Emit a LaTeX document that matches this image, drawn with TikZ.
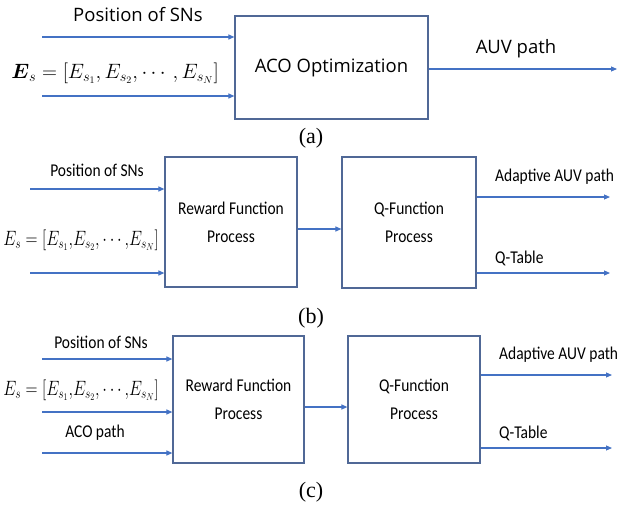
\documentclass[tikz,border=0pt]{standalone}
\usepackage{amsmath}
\usepackage{amssymb}
\usepackage{fontspec}
\usepackage{xcolor}
\usetikzlibrary{arrows.meta}

\setmainfont{Liberation Serif}
\newfontfamily\fuenteA{Open Sans}
\newfontfamily\fuenteB{Carlito}

\definecolor{azulflecha}{RGB}{68,114,196}
\definecolor{azulcaja}{RGB}{80,104,150}

% texto algo estrechado, como en las figuras (b) y (c)
\newcommand{\estrecho}[1]{\scalebox{0.86}[1]{#1}}

\begin{document}
\begin{tikzpicture}[x=1pt,y=-1pt,
    caja/.style={draw=azulcaja, line width=1.2pt, inner sep=0pt, align=center},
    flecha/.style={draw=azulflecha, line width=1.1pt, -{Triangle[length=6pt,width=5pt]}},
    etiqA/.style={font=\fuenteA\fontsize{18.5}{22}\selectfont, inner sep=0pt},
    etiqB/.style={font=\fuenteB\fontsize{18}{28}\selectfont, inner sep=0pt},
    formula/.style={font=\fontsize{20}{24}\selectfont, inner sep=0pt},
    pie/.style={font=\fontsize{22}{26}\selectfont, inner sep=0pt}]

    \useasboundingbox (0,0) rectangle (618,506);

    % (a) Optimizacion ACO
    \node[caja, etiqA, minimum width=193pt, minimum height=103pt] (aco) at (331.5,67.5) {ACO Optimization};
    \coordinate (a1) at (42,37);
    \coordinate (a2) at (42,96);
    \coordinate (aout) at (617,69);
    \draw[flecha] (a1) -- (a1 -| aco.west);
    \draw[flecha] (a2) -- (a2 -| aco.west);
    \draw[flecha] (aout -| aco.east) -- (aout);

    \node[etiqA] (posA) at (138,15) {Position of SNs};
    \node[formula] (energiaA) at (115,73)
        {$\boldsymbol{E}_s = [E_{s_1}, E_{s_2}, \cdots, E_{s_N}]$};
    \node[etiqA] (rutaA) at (516,49) {AUV path};
    \node[pie] (capA) at (311,138) {(a)};

    % (b) Q-learning con dos entradas
    \node[caja, etiqB, minimum width=132pt, minimum height=130pt] (recB) at (231,222)
        {\estrecho{Reward Function}\\\estrecho{Process}};
    \node[caja, etiqB, minimum width=134pt, minimum height=131pt] (qB) at (409,222.5)
        {\estrecho{Q-Function}\\\estrecho{Process}};
    \coordinate (b1) at (30,189);
    \coordinate (b2) at (30,273);
    \coordinate (b3) at (610,197);
    \coordinate (b4) at (610,273);
    \draw[flecha] (b1) -- (b1 -| recB.west);
    \draw[flecha] (b2) -- (b2 -| recB.west);
    \draw[flecha] ([yshift=-7pt]recB.east) -- ([yshift=-7pt]recB.east -| qB.west);
    \draw[flecha] (b3 -| qB.east) -- (b3);
    \draw[flecha] (b4 -| qB.east) -- (b4);

    \node[etiqB] (posB) at (97,170) {\estrecho{Position of SNs}};
    \node[formula] (energiaB) at (81,240)
        {\scalebox{0.8}[1]{$E_s=[E_{s_1}{,}E_{s_2}{,}\cdots{,}E_{s_N}]$}};
    \node[etiqB, anchor=west] (rutaB) at (495,177) {\estrecho{Adaptive AUV path}};
    \node[etiqB, anchor=west] (tablaB) at (495,258) {\estrecho{Q-Table}};
    \node[pie] (capB) at (311,318) {(b)};

    % (c) Q-learning con la ruta ACO como entrada
    \node[caja, etiqB, minimum width=131pt, minimum height=127pt] (recC) at (238.5,399.5)
        {\estrecho{Reward Function}\\\estrecho{Process}};
    \node[caja, etiqB, minimum width=132pt, minimum height=127pt] (qC) at (414,399.5)
        {\estrecho{Q-Function}\\\estrecho{Process}};
    \coordinate (c1) at (42,359);
    \coordinate (c2) at (42,412);
    \coordinate (c3) at (42,453);
    \coordinate (c4) at (612,375);
    \coordinate (c5) at (612,448);
    \draw[flecha] (c1) -- (c1 -| recC.west);
    \draw[flecha] (c2) -- (c2 -| recC.west);
    \draw[flecha] (c3) -- (c3 -| recC.west);
    \draw[flecha] ([yshift=-7.5pt]recC.east) -- ([yshift=-7.5pt]recC.east -| qC.west);
    \draw[flecha] (c4 -| qC.east) -- (c4);
    \draw[flecha] (c5 -| qC.east) -- (c5);

    \node[etiqB] (posC) at (101,342) {\estrecho{Position of SNs}};
    \node[formula] (energiaC) at (81,390)
        {\scalebox{0.8}[1]{$E_s=[E_{s_1}{,}E_{s_2}{,}\cdots{,}E_{s_N}]$}};
    \node[etiqB] (acoC) at (95,433) {\estrecho{ACO path}};
    \node[etiqB, anchor=west] (rutaC) at (499,355) {\estrecho{Adaptive AUV path}};
    \node[etiqB, anchor=west] (tablaC) at (499,433) {\estrecho{Q-Table}};
    \node[pie] (capC) at (311,492) {(c)};
\end{tikzpicture}
\end{document}
